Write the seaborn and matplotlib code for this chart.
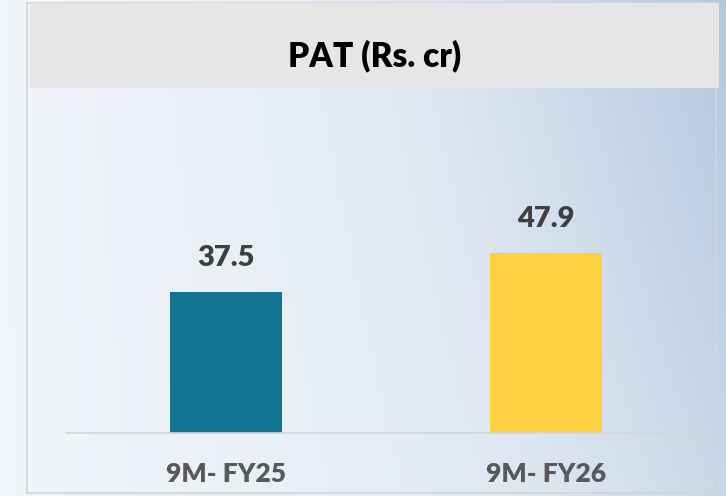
import numpy as np
import pandas as pd
import matplotlib
matplotlib.use("Agg")
import matplotlib.pyplot as plt
from matplotlib.patches import Rectangle
from matplotlib.colors import LinearSegmentedColormap
import seaborn as sns

# ---- data ----
categories = ["9M- FY25", "9M- FY26"]
values = [37.5, 47.9]
bar_colors = ["#127591", "#FFD03F"]
title = "PAT (Rs. cr)"

sns.set_theme(style="white")
plt.rcParams["font.family"] = ["Lato", "DejaVu Sans"]

W, H = 726, 496
fig = plt.figure(figsize=(W / 100, H / 100), dpi=100)

# background gradient
bg = fig.add_axes([0, 0, 1, 1])
bg.set_axis_off()
xx = np.linspace(0, 1, 300)
yy = np.linspace(0, 1, 200)
X, Y = np.meshgrid(xx, yy)
grad = 0.75 * X ** 1.3 + 0.25 * (1 - Y) * X
cmap = LinearSegmentedColormap.from_list("bgc", ["#f2f5fa", "#dfe8f2", "#b4c8de"])
bg.imshow(grad, cmap=cmap, aspect="auto", extent=[0, 1, 0, 1], origin="upper", zorder=0)
bg.set_xlim(0, 1)
bg.set_ylim(0, 1)

def px_rect(x0, y0, x1, y1, **kw):
    return Rectangle((x0 / W, 1 - y1 / H), (x1 - x0) / W, (y1 - y0) / H,
                     transform=fig.transFigure, **kw)

fig.patches.append(px_rect(27, 3, 716, 493, facecolor="none", edgecolor="#d2d4d8", lw=1.2))
fig.patches.append(px_rect(30, 3, 719, 88, facecolor="#e6e6e6", edgecolor="none"))
fig.text((30 + 719) / 2 / W, 1 - 56 / H, title, ha="center", va="center",
         fontsize=24, fontweight="heavy", color="#000000")

# main axes
ax = fig.add_axes([66 / W, 1 - 433 / H, 640 / W, 345 / H])
ax.patch.set_alpha(0)
df = pd.DataFrame({"cat": categories, "val": values})
sns.barplot(data=df, x="cat", y="val", hue="cat", palette=bar_colors,
            width=0.353, dodge=False, legend=False, ax=ax, saturation=1,
            linewidth=0, edgecolor="none")
ax.set_ylim(0, 345 / 3.76)
ax.set_xlim(-0.5, 1.5)
for c in ax.containers:
    ax.bar_label(c, fmt="%.1f", padding=15, fontsize=21, fontweight="heavy", color="#404040")
ax.set_xlabel("")
ax.set_ylabel("")
ax.set_yticks([])
ax.tick_params(axis="x", length=0, pad=21, labelsize=19, labelcolor="#595959")
for lab in ax.get_xticklabels():
    lab.set_fontweight("heavy")
for s in ["top", "right", "left"]:
    ax.spines[s].set_visible(False)
ax.spines["bottom"].set_color("#d6d6d6")
ax.spines["bottom"].set_linewidth(1.2)

fig.savefig("out.png", dpi=100)
